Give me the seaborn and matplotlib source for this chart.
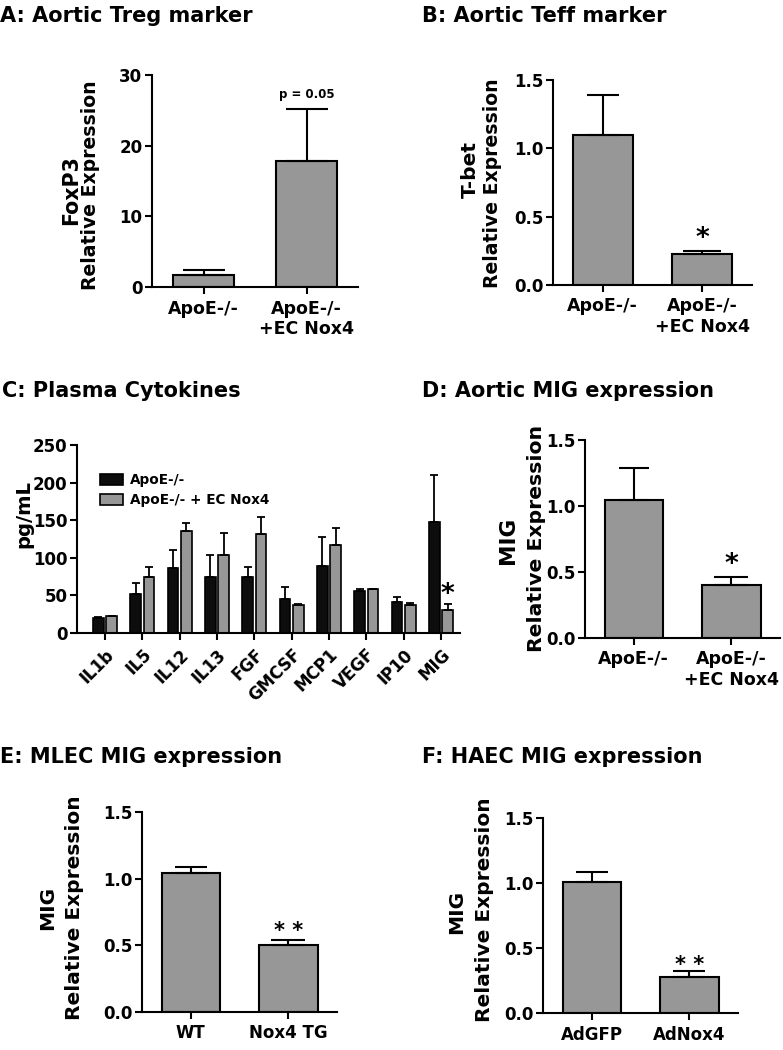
import pandas as pd
import matplotlib
matplotlib.use("Agg")
import matplotlib.pyplot as plt
import seaborn as sns
from matplotlib.ticker import FormatStrFormatter

sns.set_style("ticks")
plt.rcParams['font.family'] = ['DejaVu Sans']
plt.rcParams['font.weight'] = 'bold'
plt.rcParams['axes.linewidth'] = 1.5
for key in ['text.color', 'axes.labelcolor', 'xtick.color', 'ytick.color', 'axes.edgecolor']:
    plt.rcParams[key] = 'black'

# ---- data ----
apoe_groups = ["ApoE-/-", "ApoE-/-\n+EC Nox4"]

foxp3_mean = [1.65, 17.9]
foxp3_sem = [0.7, 7.3]

tbet_mean = [1.10, 0.224]
tbet_sem = [0.29, 0.027]

cytokines = ["IL1b", "IL5", "IL12", "IL13", "FGF", "GMCSF", "MCP1", "VEGF", "IP10", "MIG"]
cyto_groups = ["ApoE-/-", "ApoE-/- + EC Nox4"]
cyto_apoe = [20, 52, 86, 74, 74, 45, 89, 56, 41, 148]
cyto_apoe_sem = [1, 14, 24, 30, 14, 16, 38, 3, 7, 62]
cyto_nox4 = [22, 75, 135, 104, 132, 37, 117, 58, 37, 31]
cyto_nox4_sem = [1, 13, 11, 29, 22, 2, 22, 1, 3, 7]

mig_aortic_mean = [1.045, 0.40]
mig_aortic_sem = [0.24, 0.06]

mlec_groups = ["WT", "Nox4 TG"]
mlec_mean = [1.045, 0.50]
mlec_sem = [0.045, 0.04]

haec_groups = ["AdGFP", "AdNox4"]
haec_mean = [1.005, 0.274]
haec_sem = [0.08, 0.052]

GRAY = "#979797"
W, H = 783, 1050

fig = plt.figure(figsize=(W / 100, H / 100), dpi=100)


def px_axes(x0, y0, x1, y1):
    return fig.add_axes([x0 / W, 1 - y1 / H, (x1 - x0) / W, (y1 - y0) / H])


def style_axes(ax, ylim, yticks, fmt=None, xsize=12.5):
    sns.despine(ax=ax)
    ax.set_ylim(*ylim)
    ax.set_yticks(yticks)
    if fmt:
        ax.yaxis.set_major_formatter(FormatStrFormatter(fmt))
    ax.tick_params(axis='both', direction='out', length=5, width=1.5, pad=2,
                   color='black', labelcolor='black')
    ax.tick_params(axis='y', labelsize=12)
    ax.tick_params(axis='x', labelsize=xsize, pad=4)
    for t in ax.get_xticklabels() + ax.get_yticklabels():
        t.set_fontweight('bold')
    ax.set_xlabel('')
    ax.set_ylabel('')


def bar_panel(ax, groups, means, sems, caps):
    sns.barplot(x=groups, y=means, color=GRAY, saturation=1, width=0.6,
                edgecolor='black', linewidth=1.5, errorbar=None, ax=ax)
    for bar, m, s, c in zip(ax.containers[0], means, sems, caps):
        ax.errorbar(bar.get_x() + bar.get_width() / 2, m, yerr=[[0], [s]],
                    fmt='none', ecolor='black', elinewidth=1.5,
                    capsize=c, capthick=1.5, zorder=3)
    ax.set_xlim(-0.5, 1.5)
    return [b.get_x() + b.get_width() / 2 for b in ax.containers[0]]


def title(x, baseline, s):
    fig.text(x / W, 1 - baseline / H, s, fontsize=15, fontweight='bold',
             ha='left', va='baseline')


def ylabel(x, y, s, size):
    fig.text(x / W, 1 - y / H, s, fontsize=size, fontweight='bold',
             rotation=90, ha='center', va='center')


def mark(ax, x, y, s, size=19):
    ax.annotate(s, xy=(x, y), xytext=(0, -5), textcoords='offset points',
                ha='center', va='center', fontsize=size, fontweight='bold')


# ---- A: Aortic Treg marker ----
axA = px_axes(152, 75, 358, 287)
xs = bar_panel(axA, apoe_groups, foxp3_mean, foxp3_sem, [15, 15])
style_axes(axA, (0, 30), [0, 10, 20, 30])
axA.text(xs[1], 27.3, "p = 0.05", ha='center', va='center', fontsize=8.5,
         fontweight='bold')
title(0, 22, "A: Aortic Treg marker")
ylabel(71, 190, "FoxP3", 14.8)
ylabel(90, 185, "Relative Expression", 13.6)

# ---- B: Aortic Teff marker ----
axB = px_axes(553, 80, 752, 285)
xs = bar_panel(axB, apoe_groups, tbet_mean, tbet_sem, [11.5, 14])
style_axes(axB, (0, 1.5), [0, 0.5, 1.0, 1.5], '%.1f')
mark(axB, xs[1], 0.39, "*")
title(422, 22, "B: Aortic Teff marker")
ylabel(470, 170, "T-bet", 14.5)
ylabel(493, 183, "Relative Expression", 13.6)

# ---- C: Plasma cytokines ----
axC = px_axes(77, 445, 460, 633)
cyto_df = pd.DataFrame({
    "cytokine": cytokines * 2,
    "value": cyto_apoe + cyto_nox4,
    "group": [cyto_groups[0]] * len(cytokines) + [cyto_groups[1]] * len(cytokines),
})
sns.barplot(data=cyto_df, x="cytokine", y="value", hue="group",
            palette=["#0d0d0d", GRAY], saturation=1, width=0.72, gap=0.2,
            edgecolor='black', linewidth=1.2, errorbar=None, ax=axC)
for cont, means, sems in zip(axC.containers, [cyto_apoe, cyto_nox4],
                             [cyto_apoe_sem, cyto_nox4_sem]):
    cx = [b.get_x() + b.get_width() / 2 for b in cont]
    axC.errorbar(cx, means, yerr=[[0] * len(means), sems], fmt='none',
                 ecolor='black', elinewidth=1.3, capsize=3, capthick=1.3,
                 zorder=3)
mig_x = axC.containers[1][-1].get_x() + axC.containers[1][-1].get_width() / 2
axC.set_xlim(-0.75, 9.51)
style_axes(axC, (0, 250), [0, 50, 100, 150, 200, 250], xsize=12)
plt.setp(axC.get_xticklabels(), rotation=45, ha='right', rotation_mode='anchor')
handles, labels = axC.get_legend_handles_labels()
axC.legend(handles, labels, loc='upper left', bbox_to_anchor=(0.06, 0.85),
           frameon=False, borderpad=0, borderaxespad=0, handlelength=1.7,
           handleheight=0.9, handletextpad=0.5, labelspacing=0.45,
           prop={'weight': 'bold', 'size': 9.8})
mark(axC, mig_x, 60, "*")
title(2, 397, "C: Plasma Cytokines")
ylabel(24, 514, "pg/mL", 14.1)

# ---- D: Aortic MIG expression ----
axD = px_axes(585, 440, 780, 638)
xs = bar_panel(axD, apoe_groups, mig_aortic_mean, mig_aortic_sem, [11, 12])
style_axes(axD, (0, 1.5), [0, 0.5, 1.0, 1.5], '%.1f')
mark(axD, xs[1], 0.605, "*")
title(422, 397, "D: Aortic MIG expression")
ylabel(508, 540, "MIG", 15.5)
ylabel(537, 538, "Relative Expression", 14.7)

# ---- E: MLEC MIG expression ----
axE = px_axes(142, 812, 337, 1012)
xs = bar_panel(axE, mlec_groups, mlec_mean, mlec_sem, [11.5, 12])
style_axes(axE, (0, 1.5), [0, 0.5, 1.0, 1.5], '%.1f', xsize=12)
mark(axE, xs[1], 0.66, "* *", 15)
title(0, 763, "E: MLEC MIG expression")
ylabel(48, 908, "MIG", 14.5)
ylabel(75, 908, "Relative Expression", 14.5)

# ---- F: HAEC MIG expression ----
axF = px_axes(543, 818, 738, 1013)
xs = bar_panel(axF, haec_groups, haec_mean, haec_sem, [11.5, 11.5])
style_axes(axF, (0, 1.5), [0, 0.5, 1.0, 1.5], '%.1f', xsize=12)
mark(axF, xs[1], 0.42, "* *", 15)
title(422, 763, "F: HAEC MIG expression")
ylabel(457, 912, "MIG", 14.5)
ylabel(485, 910, "Relative Expression", 14.5)

fig.savefig("out.png", dpi=100)
